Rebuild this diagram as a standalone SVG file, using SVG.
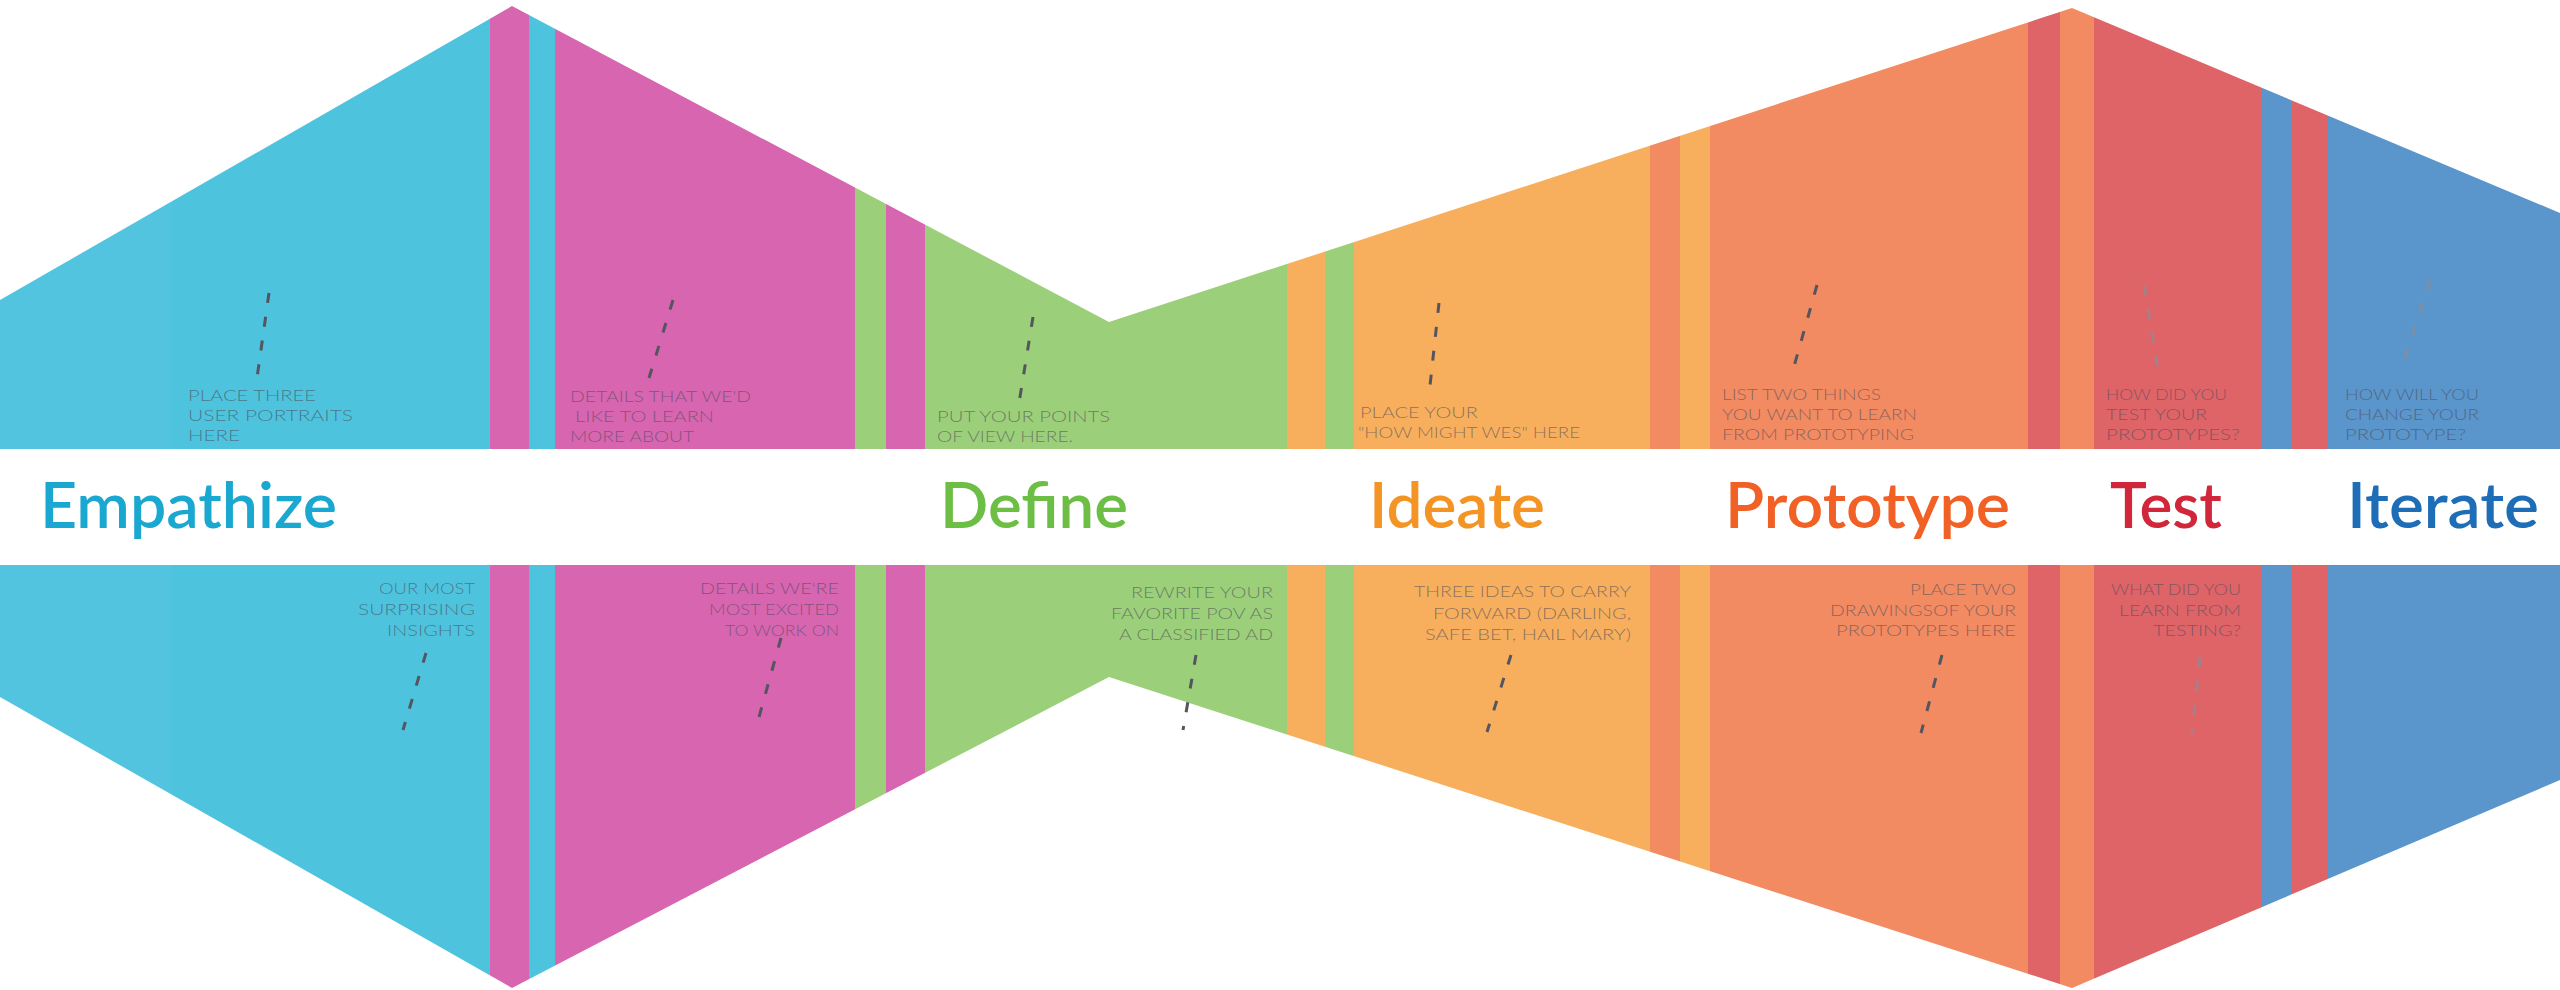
<svg xmlns="http://www.w3.org/2000/svg" width="2560" height="990" viewBox="0 0 2560 990">
  <defs>
    <!-- double-diamond outline that every colour stripe is clipped to -->
    <clipPath id="bowtie">
      <polygon points="0,300 512,6 1109,322 2072,8 2560,213 2560,780 2072,988 1109,677 512,988 0,697"/>
    </clipPath>
    <style>
      .blue   { fill: #4ec3de; }
      .pink   { fill: #d865b0; }
      .green  { fill: #9ccf79; }
      .orange { fill: #f7af5e; }
      .salmon { fill: #f28a62; }
      .red    { fill: #de6468; }
      .navy   { fill: #5a95cb; }
      .title  { font-family: Lato, "Open Sans", "Liberation Sans", sans-serif; font-size: 64px; font-weight: 600; }
      .note   { font-family: Lato, "Open Sans", "Liberation Sans", sans-serif; font-size: 15px; font-weight: 300; fill: #4a4a58; fill-opacity: 0.62; }
      .end    { text-anchor: end; }
      .lead   { stroke: #55555f; stroke-width: 3; stroke-dasharray: 10 14; fill: none; }
      .faint  { stroke: #8c8c96; stroke-opacity: 0.75; }
    </style>
  </defs>

  <rect width="2560" height="990" fill="#ffffff"/>

  <!-- colour stripes -->
  <g id="stripes" clip-path="url(#bowtie)">
    <g id="empathize-fill">
      <rect class="blue" x="0" y="0" width="490" height="990"/>
      <rect fill="#ffffff" fill-opacity="0.03" x="0" y="0" width="172" height="990"/>
      <rect class="pink" x="490" y="0" width="39" height="990"/>
      <rect class="blue" x="529" y="0" width="26" height="990"/>
      <rect class="pink" x="555" y="0" width="300" height="990"/>
    </g>
    <g id="define-fill">
      <rect class="green" x="855" y="0" width="31" height="990"/>
      <rect class="pink" x="886" y="0" width="39" height="990"/>
      <rect class="green" x="925" y="0" width="362" height="990"/>
    </g>
    <g id="ideate-fill">
      <rect class="orange" x="1287" y="0" width="38" height="990"/>
      <rect class="green" x="1325" y="0" width="29" height="990"/>
      <rect class="orange" x="1354" y="0" width="296" height="990"/>
    </g>
    <g id="prototype-fill">
      <rect class="salmon" x="1650" y="0" width="30" height="990"/>
      <rect class="orange" x="1680" y="0" width="30" height="990"/>
      <rect class="salmon" x="1710" y="0" width="318" height="990"/>
    </g>
    <g id="test-fill">
      <rect class="red" x="2028" y="0" width="32" height="990"/>
      <rect class="salmon" x="2060" y="0" width="34" height="990"/>
      <rect class="red" x="2094" y="0" width="168" height="990"/>
    </g>
    <g id="iterate-fill">
      <rect class="navy" x="2262" y="0" width="30" height="990"/>
      <rect class="red" x="2292" y="0" width="36" height="990"/>
      <rect class="navy" x="2328" y="0" width="232" height="990"/>
    </g>
  </g>

  <!-- white band carrying the phase names -->
  <rect id="band" x="0" y="449" width="2560" height="116" fill="#ffffff"/>

  <!-- dashed leader lines -->
  <g id="connectors">
    <line class="lead" x1="269" y1="293" x2="257" y2="378"/>
    <line class="lead" x1="673" y1="300" x2="649" y2="378"/>
    <line class="lead" x1="1033" y1="317" x2="1019" y2="403"/>
    <line class="lead" x1="1439" y1="303" x2="1429" y2="395"/>
    <line class="lead" x1="1817" y1="285" x2="1793" y2="370"/>
    <line class="lead faint" x1="2144" y1="285" x2="2158" y2="370"/>
    <line class="lead faint" x1="2430" y1="280" x2="2401" y2="370"/>
    <line class="lead" x1="426" y1="653" x2="403" y2="730"/>
    <line class="lead" x1="781" y1="638" x2="759" y2="717"/>
    <line class="lead" x1="1196" y1="655" x2="1183" y2="730"/>
    <line class="lead" x1="1511" y1="655" x2="1487" y2="732"/>
    <line class="lead" x1="1942" y1="655" x2="1921" y2="733"/>
    <line class="lead faint" x1="2200" y1="657" x2="2192" y2="733"/>
  </g>

  <g id="empathize">
    <text class="title" x="40" y="528" fill="#1ba8d0" textLength="297" lengthAdjust="spacingAndGlyphs">Empathize</text>
    <text class="note" x="188" y="401" textLength="128" lengthAdjust="spacingAndGlyphs">PLACE THREE</text>
    <text class="note" x="188" y="421" textLength="165" lengthAdjust="spacingAndGlyphs">USER PORTRAITS</text>
    <text class="note" x="188" y="441" textLength="52" lengthAdjust="spacingAndGlyphs">HERE</text>
    <text class="note" x="570" y="402" textLength="181" lengthAdjust="spacingAndGlyphs">DETAILS THAT WE'D</text>
    <text class="note" x="575" y="422" textLength="139" lengthAdjust="spacingAndGlyphs">LIKE  TO LEARN</text>
    <text class="note" x="570" y="442" textLength="124" lengthAdjust="spacingAndGlyphs">MORE ABOUT</text>
    <text class="note end" x="475" y="594" textLength="96" lengthAdjust="spacingAndGlyphs">OUR MOST</text>
    <text class="note end" x="475" y="615" textLength="117" lengthAdjust="spacingAndGlyphs">SURPRISING</text>
    <text class="note end" x="475" y="636" textLength="88" lengthAdjust="spacingAndGlyphs">INSIGHTS</text>
    <text class="note end" x="839" y="594" textLength="139" lengthAdjust="spacingAndGlyphs">DETAILS WE'RE</text>
    <text class="note end" x="839" y="615" textLength="130" lengthAdjust="spacingAndGlyphs">MOST EXCITED</text>
    <text class="note end" x="839" y="636" textLength="114" lengthAdjust="spacingAndGlyphs">TO WORK ON</text>
  </g>

  <g id="define">
    <text class="title" x="940" y="528" fill="#6cbe45" textLength="188" lengthAdjust="spacingAndGlyphs">Define</text>
    <text class="note" x="937" y="422" textLength="173" lengthAdjust="spacingAndGlyphs">PUT YOUR POINTS</text>
    <text class="note" x="937" y="442" textLength="136" lengthAdjust="spacingAndGlyphs">OF VIEW HERE.</text>
    <text class="note end" x="1273" y="598" textLength="142" lengthAdjust="spacingAndGlyphs">REWRITE YOUR</text>
    <text class="note end" x="1273" y="619" textLength="162" lengthAdjust="spacingAndGlyphs">FAVORITE POV AS</text>
    <text class="note end" x="1273" y="640" textLength="154" lengthAdjust="spacingAndGlyphs">A CLASSIFIED AD</text>
  </g>

  <g id="ideate">
    <text class="title" x="1369" y="528" fill="#f39424" textLength="176" lengthAdjust="spacingAndGlyphs">Ideate</text>
    <text class="note" x="1360" y="418" textLength="118" lengthAdjust="spacingAndGlyphs">PLACE YOUR</text>
    <text class="note" x="1358" y="438" textLength="222" lengthAdjust="spacingAndGlyphs">"HOW MIGHT WES" HERE</text>
    <text class="note end" x="1631" y="597" textLength="217" lengthAdjust="spacingAndGlyphs">THREE IDEAS TO CARRY</text>
    <text class="note end" x="1631" y="619" textLength="198" lengthAdjust="spacingAndGlyphs">FORWARD (DARLING,</text>
    <text class="note end" x="1631" y="640" textLength="206" lengthAdjust="spacingAndGlyphs">SAFE BET, HAIL MARY)</text>
  </g>

  <g id="prototype">
    <text class="title" x="1725" y="528" fill="#f16024" textLength="285" lengthAdjust="spacingAndGlyphs">Prototype</text>
    <text class="note" x="1722" y="400" textLength="159" lengthAdjust="spacingAndGlyphs">LIST TWO THINGS</text>
    <text class="note" x="1722" y="420" textLength="195" lengthAdjust="spacingAndGlyphs">YOU WANT TO LEARN</text>
    <text class="note" x="1722" y="440" textLength="192" lengthAdjust="spacingAndGlyphs">FROM PROTOTYPING</text>
    <text class="note end" x="2016" y="595" textLength="106" lengthAdjust="spacingAndGlyphs">PLACE TWO</text>
    <text class="note end" x="2016" y="616" textLength="186" lengthAdjust="spacingAndGlyphs">DRAWINGSOF YOUR</text>
    <text class="note end" x="2016" y="636" textLength="180" lengthAdjust="spacingAndGlyphs">PROTOTYPES HERE</text>
  </g>

  <g id="test">
    <text class="title" x="2110" y="528" fill="#d0283a" textLength="112" lengthAdjust="spacingAndGlyphs">Test</text>
    <text class="note" x="2106" y="400" textLength="121" lengthAdjust="spacingAndGlyphs">HOW DID YOU</text>
    <text class="note" x="2106" y="420" textLength="101" lengthAdjust="spacingAndGlyphs">TEST YOUR</text>
    <text class="note" x="2106" y="440" textLength="134" lengthAdjust="spacingAndGlyphs">PROTOTYPES?</text>
    <text class="note end" x="2241" y="595" textLength="130" lengthAdjust="spacingAndGlyphs">WHAT DID YOU</text>
    <text class="note end" x="2241" y="616" textLength="122" lengthAdjust="spacingAndGlyphs">LEARN FROM</text>
    <text class="note end" x="2241" y="636" textLength="88" lengthAdjust="spacingAndGlyphs">TESTING?</text>
  </g>

  <g id="iterate">
    <text class="title" x="2347" y="528" fill="#1e6db7" textLength="192" lengthAdjust="spacingAndGlyphs">Iterate</text>
    <text class="note" x="2345" y="400" textLength="134" lengthAdjust="spacingAndGlyphs">HOW WILL YOU</text>
    <text class="note" x="2345" y="420" textLength="134" lengthAdjust="spacingAndGlyphs">CHANGE YOUR</text>
    <text class="note" x="2345" y="440" textLength="121" lengthAdjust="spacingAndGlyphs">PROTOTYPE?</text>
  </g>
</svg>
